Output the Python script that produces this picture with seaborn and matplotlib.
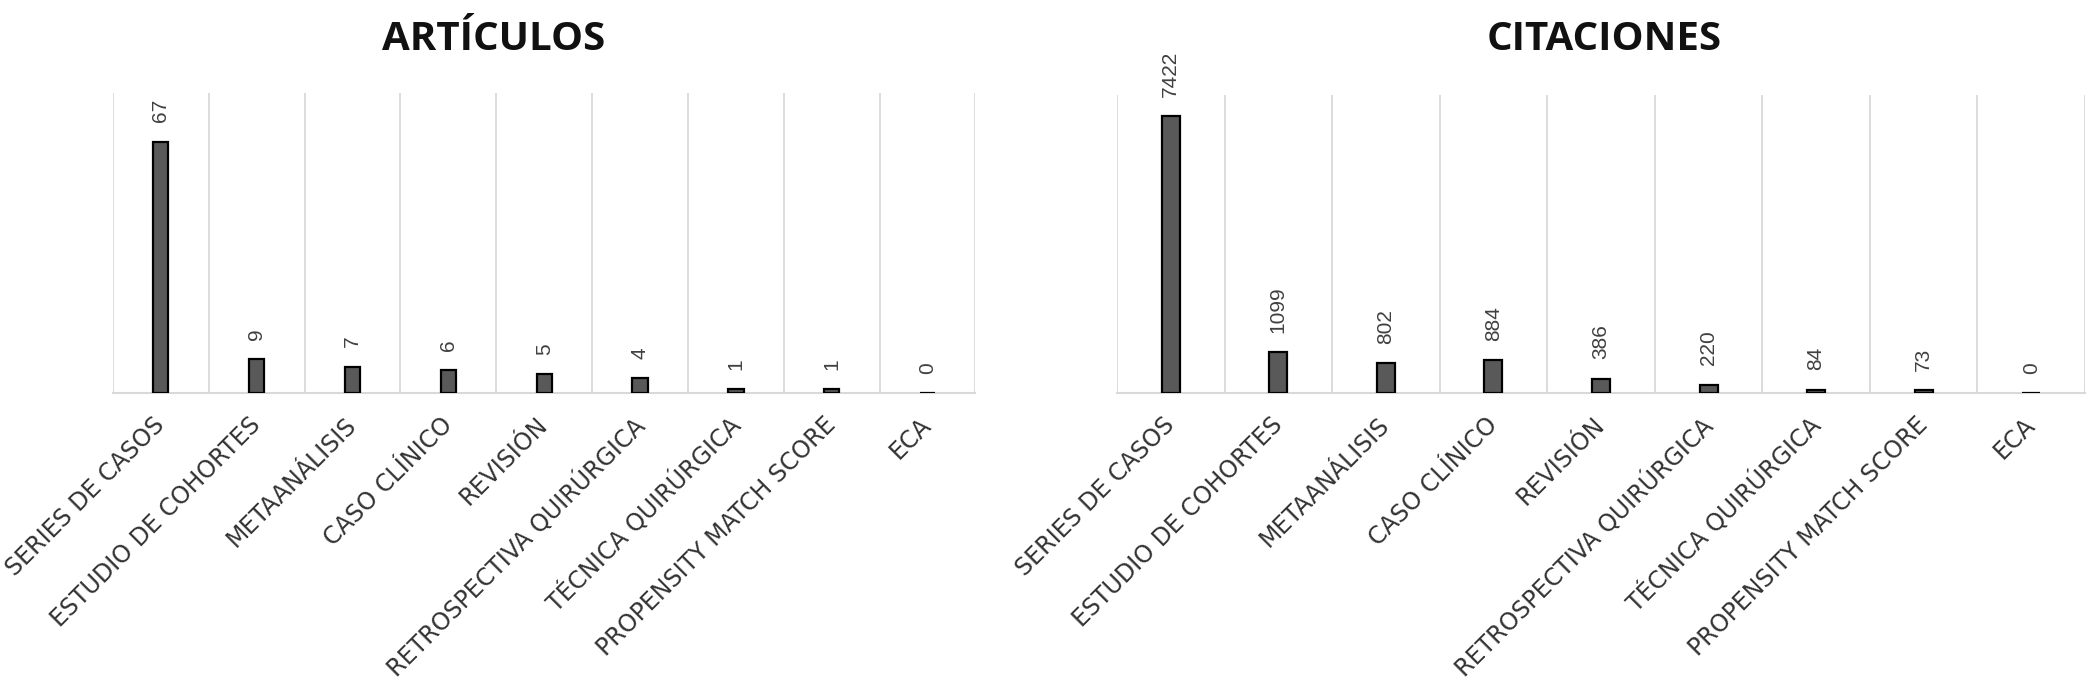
import pandas as pd
import matplotlib
matplotlib.use('Agg')
import matplotlib.pyplot as plt
from matplotlib.transforms import ScaledTranslation
import seaborn as sns

# data
categories = ['SERIES DE CASOS', 'ESTUDIO DE COHORTES', 'METAANÁLISIS', 'CASO CLÍNICO',
              'REVISIÓN', 'RETROSPECTIVA QUIRÚRGICA', 'TÉCNICA QUIRÚRGICA',
              'PROPENSITY MATCH SCORE', 'ECA']
articulos = [67, 9, 7, 6, 5, 4, 1, 1, 0]
citaciones = [7422, 1099, 802, 884, 386, 220, 84, 73, 0]

sns.set_theme(style='white')
plt.rcParams['font.family'] = ['DejaVu Sans']

BAR_COLOR = '#595959'
GRID_COLOR = '#d9d9d9'


def draw_panel(fig, ax, values, ymax, bar_width):
    df = pd.DataFrame({'cat': categories, 'val': values})
    sns.barplot(data=df, x='cat', y='val', color=BAR_COLOR, width=bar_width,
                edgecolor='black', linewidth=1.6, saturation=1, ax=ax, zorder=3)
    n = len(categories)
    ax.set_xlim(-0.5, n - 0.5)
    ax.set_ylim(0, ymax)
    # vertical gridlines between categories
    ax.set_xticks([i + 0.5 for i in range(-1, n)], minor=True)
    ax.grid(True, which='minor', axis='x', color=GRID_COLOR, linewidth=1.3, zorder=0)
    ax.grid(False, which='major')
    ax.set_yticks([])
    ax.set_xlabel('')
    ax.set_ylabel('')
    for s in ['top', 'right', 'left']:
        ax.spines[s].set_visible(False)
    ax.spines['bottom'].set_color(GRID_COLOR)
    ax.spines['bottom'].set_linewidth(1.5)
    ax.tick_params(axis='x', which='both', length=0, pad=14)
    ax.set_xticks(range(n))
    ax.set_xticklabels(categories, rotation=45, ha='right', rotation_mode='anchor',
                       fontsize=17, color='#333333')
    shift = ScaledTranslation(-6 / 72, 0, fig.dpi_scale_trans)
    for lab in ax.get_xticklabels():
        lab.set_transform(lab.get_transform() + shift)
    ax.bar_label(ax.containers[0], labels=[str(v) for v in values], padding=14,
                 rotation=90, fontsize=15, color='#404040', family='Liberation Sans')


fig = plt.figure(figsize=(20.91, 6.87), dpi=100)
ax1 = fig.add_axes([0.054, 0.428, 0.4125, 0.437])
ax2 = fig.add_axes([0.5342, 0.428, 0.4629, 0.434])

draw_panel(fig, ax1, articulos, 80, 0.16)
draw_panel(fig, ax2, citaciones, 8000, 0.167)

fig.text(0.236, 0.927, 'ARTÍCULOS', ha='center', va='baseline', fontsize=29,
         fontweight='bold', family='Open Sans', color='#111111')
fig.text(0.767, 0.927, 'CITACIONES', ha='center', va='baseline', fontsize=29,
         fontweight='bold', family='Open Sans', color='#111111')

fig.savefig('out.png', dpi=100, facecolor='white')
